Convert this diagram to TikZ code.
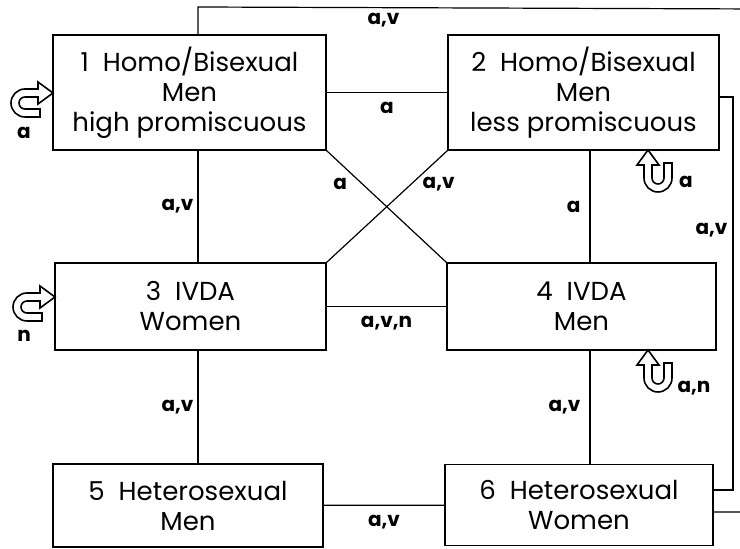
\documentclass[tikz,border=0pt]{standalone}
\usepackage{fontspec}
\setmainfont{Poppins}
\tikzset{
  group/.style={draw, line width=1.3pt, align=center, inner sep=0pt, font=\fontsize{26}{30}\selectfont},
  lbl/.style={font=\bfseries\fontsize{20}{20}\selectfont, inner sep=1pt},
  conn/.style={line width=1.2pt},
}
% hollow u-turn arrow, tip at #1, turned by #2
\newcommand{\selfloop}[2]{%
  \draw[line width=1.6pt, shift={(#1)}, rotate=#2] (0,0) -- (-15,11) -- (-15,4) -- (-28,4)
    arc[start angle=90, end angle=270, radius=14pt] -- (-13,-24) -- (-13,-16) -- (-28,-16)
    arc[start angle=270, end angle=90, radius=6pt] -- (-15,-4) -- (-15,-11) -- cycle;}
\begin{document}
\begin{tikzpicture}[x=1pt, y=1pt]
\useasboundingbox (0,0) rectangle (740,549);
\clip (0,0) rectangle (740,549);
% groups
\node[group, minimum width=273pt, minimum height=115pt] (b1) at (189.5,456.5) {1\ \ Homo/Bisexual\\Men\\high promiscuous};
\node[group, minimum width=271pt, minimum height=115pt] (b2) at (583.5,456.5) {2\ \ Homo/Bisexual\\Men\\less promiscuous};
\node[group, minimum width=271pt, minimum height=87pt] (b3) at (190.5,242.5) {3\ \ IVDA\\Women};
\node[group, minimum width=269pt, minimum height=87pt] (b4) at (581.5,242.5) {4\ \ IVDA\\Men};
\node[group, minimum width=270pt, minimum height=83pt] (b5) at (188,43.5) {5\ \ Heterosexual\\Men};
\node[group, minimum width=268pt, minimum height=81pt] (b6) at (579,44) {6\ \ Heterosexual\\Women};
% contacts
\draw[conn] (b1) -- node[lbl, below=8pt] (l12) {a} (b2);
\draw[conn] (b3) -- node[lbl, below=8pt] (l34) {a,v,n} (b4);
\draw[conn] (b5) -- node[lbl, below=8pt] (l56) {a,v} (b6);
\draw[conn] (b1.south -| 198,0) -- node[lbl, left=3pt] (l13) {a,v} (b3.north -| 198,0);
\draw[conn] (b3.south -| 198,0) -- node[lbl, left=3pt] (l35) {a,v} (b5.north -| 198,0);
\draw[conn] (b2.south -| 590,0) -- node[lbl, left=8pt] (l24) {a} (b4.north -| 590,0);
\draw[conn] (b4.south -| 590,0) -- node[lbl, left=8pt] (l46) {a,v} (b6.north -| 590,0);
\draw[conn] (b1.south east) -- node[lbl, pos=0.3, left=14pt] (l14) {a} (b4.north west);
\draw[conn] (b2.south west) -- node[lbl, pos=0.3, right=10pt] (l23) {a,v} (b3.north east);
\draw[conn] (b2.east |- 0,452) -- (733,452) -- node[lbl, pos=0.34, left=4pt] (l26) {a,v} (733,59) -- (b6.east |- 0,59);
\draw[conn] (b1.north -| 198,0) -- (198,542) -- node[lbl, pos=0.33, below=4pt] (l16) {a,v} (760,540) -- (760,37) -- (b6.east |- 0,37);
% within-group contacts
\selfloop{53,456}{0}
\node[lbl] (s1) at (24,416) {a};
\selfloop{55,252}{0}
\node[lbl] (s3) at (24,213) {n};
\selfloop{648,399}{90}
\node[lbl] (s2) at (686,367) {a};
\selfloop{648,199}{90}
\node[lbl] (s4) at (694,161) {a,n};
\end{tikzpicture}
\end{document}
